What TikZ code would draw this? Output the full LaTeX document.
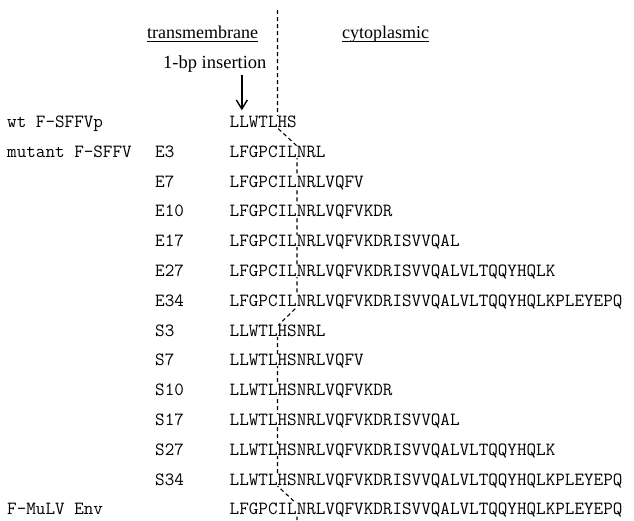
\documentclass[tikz,border=0pt]{standalone}
\usepackage{fontspec}
\setmainfont{Liberation Serif}
\usetikzlibrary{arrows.meta}

\begin{document}
\begin{tikzpicture}[
        x=1pt, y=-1pt,
        lab/.style={anchor=base west, inner sep=0pt, font=\fontsize{18}{20}\selectfont},
        tag/.style={anchor=base west, inner sep=0pt, font=\fontsize{18.6}{20}\ttfamily},
        seq/.style={anchor=base west, inner sep=0.5pt, fill=white, text height=11pt, text depth=0pt, font=\fontsize{18.6}{20}\ttfamily},
        bound/.style={dash pattern=on 4pt off 3pt, line width=1.1pt},
        ul/.style={line width=1.2pt},
        arr/.style={-{Straight Barb[length=9pt, width=11pt]}, line width=1.4pt}
    ]
        \useasboundingbox (0,0) rectangle (634,520);
        % membrane boundary
        \draw[bound] (277.5,10) -- (277.5,128) -- (297,146) -- (297,307) -- (277.5,326) -- (277.5,486) -- (297,504) -- (297,520);
        % headings
        \node[lab] (tm) at (147,38) {transmembrane};
        \node[lab] (cyto) at (342,38) {cytoplasmic};
        \draw[ul] ([yshift=-3.5pt]tm.base west) -- ([yshift=-3.5pt]tm.base east);
        \draw[ul] ([yshift=-3.5pt]cyto.base west) -- ([yshift=-3.5pt]cyto.base east);
        \node[lab, font=\fontsize{18.5}{20}\selectfont] (ins) at (163,68) {1-bp insertion};
        % rows
        \node[tag] (wt) at (7,127) {wt F-SFFVp};
        \node[seq] (wtseq) at (229,127) {LLWTLHS};
        \node[tag] (mut) at (7,157) {mutant F-SFFV};
        \node[tag] (e3) at (155,157) {E3};
        \node[seq] (e3seq) at (229,157) {LFGPCILNRL};
        \node[tag] (e7) at (155,187) {E7};
        \node[seq] (e7seq) at (229,187) {LFGPCILNRLVQFV};
        \node[tag] (e10) at (155,216) {E10};
        \node[seq] (e10seq) at (229,216) {LFGPCILNRLVQFVKDR};
        \node[tag] (e17) at (155,246) {E17};
        \node[seq] (e17seq) at (229,246) {LFGPCILNRLVQFVKDRISVVQAL};
        \node[tag] (e27) at (155,276) {E27};
        \node[seq] (e27seq) at (229,276) {LFGPCILNRLVQFVKDRISVVQALVLTQQYHQLK};
        \node[tag] (e34) at (155,306) {E34};
        \node[seq] (e34seq) at (229,306) {LFGPCILNRLVQFVKDRISVVQALVLTQQYHQLKPLEYEPQ};
        \node[tag] (s3) at (155,336) {S3};
        \node[seq] (s3seq) at (229,336) {LLWTLHSNRL};
        \node[tag] (s7) at (155,365) {S7};
        \node[seq] (s7seq) at (229,365) {LLWTLHSNRLVQFV};
        \node[tag] (s10) at (155,395) {S10};
        \node[seq] (s10seq) at (229,395) {LLWTLHSNRLVQFVKDR};
        \node[tag] (s17) at (155,425) {S17};
        \node[seq] (s17seq) at (229,425) {LLWTLHSNRLVQFVKDRISVVQAL};
        \node[tag] (s27) at (155,455) {S27};
        \node[seq] (s27seq) at (229,455) {LLWTLHSNRLVQFVKDRISVVQALVLTQQYHQLK};
        \node[tag] (s34) at (155,485) {S34};
        \node[seq] (s34seq) at (229,485) {LLWTLHSNRLVQFVKDRISVVQALVLTQQYHQLKPLEYEPQ};
        \node[tag] (mulv) at (7,514) {F-MuLV Env};
        \node[seq] (mulvseq) at (229,514) {LFGPCILNRLVQFVKDRISVVQALVLTQQYHQLKPLEYEPQ};
        % insertion site
        \draw[arr, shorten <=3pt, shorten >=5pt] ([xshift=27pt]ins.south) -- ([xshift=27pt]ins.south |- wtseq.north);
    \end{tikzpicture}
\end{document}
